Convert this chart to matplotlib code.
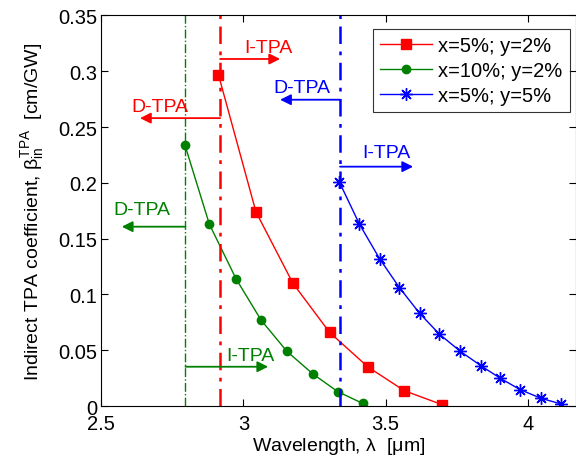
import matplotlib
matplotlib.use("Agg")
import matplotlib.pyplot as plt

plt.rcParams['font.family'] = ['Liberation Sans', 'DejaVu Sans']
plt.rcParams['mathtext.fontset'] = 'custom'
plt.rcParams['mathtext.rm'] = 'Liberation Sans'
plt.rcParams['mathtext.it'] = 'Liberation Sans'

# Data
lam_red = [2.912, 3.044, 3.174, 3.303, 3.438, 3.566, 3.699]
beta_red = [0.297, 0.174, 0.110, 0.066, 0.035, 0.0137, 0.0012]
lam_green = [2.794, 2.880, 2.974, 3.062, 3.153, 3.243, 3.331, 3.419]
beta_green = [0.234, 0.163, 0.114, 0.077, 0.049, 0.029, 0.013, 0.0024]
lam_blue = [3.337, 3.408, 3.479, 3.549, 3.620, 3.689, 3.763, 3.836, 3.904, 3.974, 4.047, 4.118]
beta_blue = [0.201, 0.163, 0.132, 0.106, 0.083, 0.0645, 0.049, 0.036, 0.0248, 0.0146, 0.0069, 0.0018]
labels = ["x=5%; y=2%", "x=10%; y=2%", "x=5%; y=5%"]

edge_red, edge_green, edge_blue = 2.918, 2.796, 3.340

xticks = [2.5, 3, 3.5, 4]
xticklabels = ["2.5", "3", "3.5", "4"]
yticks = [0, 0.05, 0.1, 0.15, 0.2, 0.25, 0.3, 0.35]
yticklabels = ["0", "0.05", "0.1", "0.15", "0.2", "0.25", "0.3", "0.35"]

RED, GREEN, BLUE = "#ff0000", "#008000", "#0000ff"

fig = plt.figure(figsize=(5.76, 4.6), dpi=100)
ax = fig.add_axes([0.1759, 0.1152, 0.8241, 0.849])

ax.plot(lam_red, beta_red, '-', color=RED, lw=1, marker='s', ms=7, label=labels[0])
ax.plot(lam_green, beta_green, '-', color=GREEN, lw=1, marker='o', ms=6, label=labels[1])
ax.plot(lam_blue, beta_blue, '-', color=BLUE, lw=1, marker=(8, 2, 0), ms=9, mew=1, label=labels[2])

ax.axvline(edge_green, color=GREEN, lw=1, ls='-.')
ax.axvline(edge_red, color=RED, lw=1.8, ls=(0, (7, 3, 1.5, 3)))
ax.axvline(edge_blue, color=BLUE, lw=1.8, ls=(0, (7, 3, 1.5, 3)))

def arrow(x0, x1, y, color, lw=1.3):
    ax.annotate("", xy=(x1, y), xytext=(x0, y),
                arrowprops=dict(arrowstyle='-|>', color=color, lw=lw,
                                mutation_scale=16, shrinkA=0, shrinkB=0))

fs = 14
# red
arrow(edge_red, 3.129, 0.311, RED)
ax.text(3.087, 0.3217, "I-TPA", color=RED, fontsize=fs, ha='center', va='center')
arrow(edge_red, 2.636, 0.258, RED)
ax.text(2.707, 0.2688, "D-TPA", color=RED, fontsize=fs, ha='center', va='center')
# blue
arrow(edge_blue, 3.129, 0.2745, BLUE)
ax.text(3.207, 0.285, "D-TPA", color=BLUE, fontsize=fs, ha='center', va='center')
arrow(edge_blue, 3.597, 0.2145, BLUE)
ax.text(3.502, 0.2276, "I-TPA", color=BLUE, fontsize=fs, ha='center', va='center')
# green
arrow(edge_green, 2.572, 0.1607, GREEN)
ax.text(2.643, 0.1765, "D-TPA", color=GREEN, fontsize=fs, ha='center', va='center')
arrow(edge_green, 3.087, 0.0352, GREEN)
ax.text(3.025, 0.0451, "I-TPA", color=GREEN, fontsize=fs, ha='center', va='center')

ax.set_xlim(2.5, 4.17)
ax.set_ylim(0, 0.35)
ax.set_xticks(xticks)
ax.set_xticklabels(xticklabels)
ax.set_yticks(yticks)
ax.set_yticklabels(yticklabels)
ax.tick_params(direction='in', top=True, right=True, labelsize=14.5, length=5, width=0.8, pad=3)
ax.tick_params(axis='x', pad=6)
for s in ax.spines.values():
    s.set_linewidth(0.8)

ax.set_xlabel(r"Wavelength, $\lambda$  [$\mu$m]", fontsize=14, labelpad=1)
ax.set_ylabel(r"Indirect TPA coefficient, $\beta_{\mathrm{in}}^{\mathrm{TPA}}$  [cm/GW]", fontsize=14, labelpad=9)

leg = ax.legend(loc='upper right', bbox_to_anchor=(0.995, 0.975), fontsize=14.5, frameon=True,
                fancybox=False, edgecolor='black', handlelength=2.6, borderpad=0.35,
                labelspacing=0.3, handletextpad=0.3, borderaxespad=0.2)
leg.get_frame().set_linewidth(0.8)

fig.savefig("out.png", dpi=100)
